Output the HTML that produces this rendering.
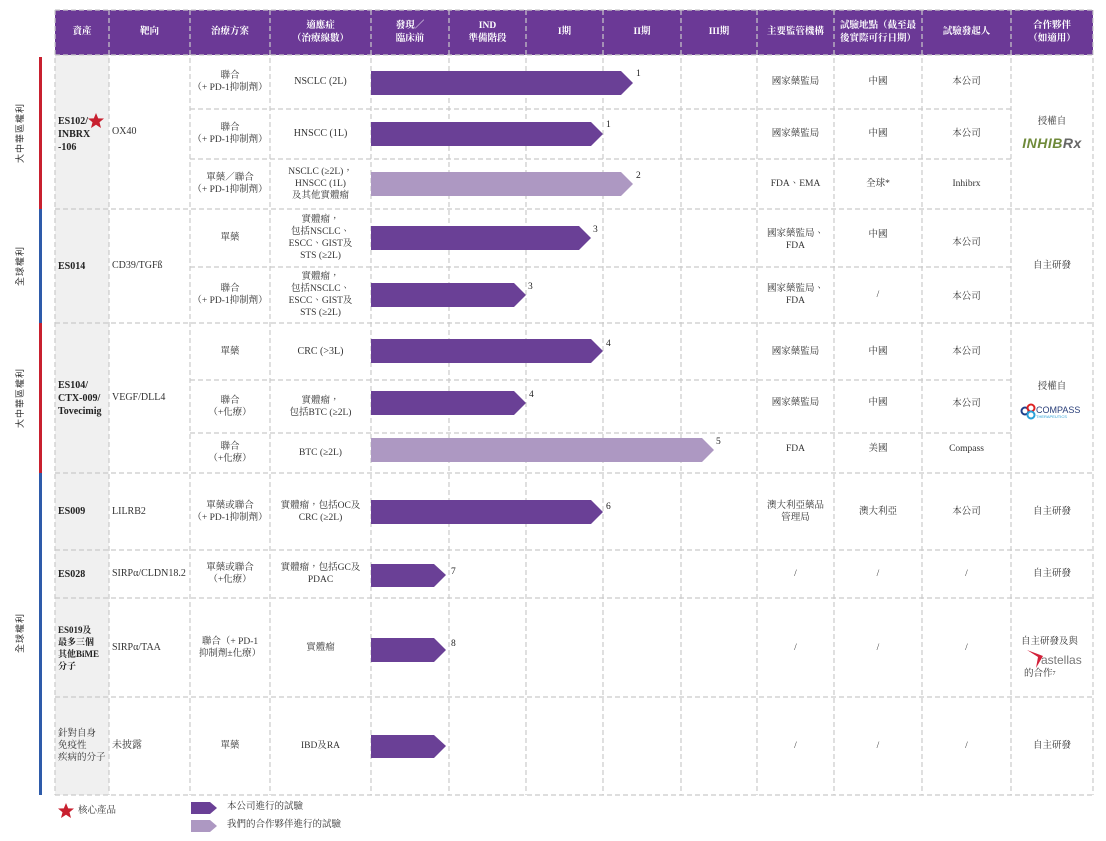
<!DOCTYPE html>
<html><head><meta charset="utf-8"><style>
body{margin:0;width:1106px;height:841px;background:#fff;position:relative;overflow:hidden;font-family:"Liberation Serif","Noto Serif CJK TC","Noto Serif CJK SC",serif;color:#333;}
.c{position:absolute;display:flex;align-items:center;justify-content:center;text-align:center;font-size:9.5px;line-height:12px;}
.l{justify-content:flex-start;text-align:left;padding-left:3px;box-sizing:border-box;}
.h{color:#fff;font-size:9.5px;font-weight:bold;line-height:13px;}
.b{font-weight:bold;font-size:10px;line-height:13px;color:#222}
.n{position:absolute;font-size:9.5px;color:#222}
.v{position:absolute;width:100px;height:12px;line-height:12px;text-align:center;transform:rotate(-90deg);font-size:9px;color:#333;font-family:"Noto Sans CJK TC",sans-serif;letter-spacing:1px}
</style></head><body>
<svg width="1106" height="841" style="position:absolute;left:0;top:0">
<rect x="55" y="10" width="1038" height="45" fill="#6B3996"/>
<rect x="55" y="55" width="54" height="740" fill="#f0f0f0"/>
<rect x="39" y="57" width="3" height="152" fill="#C8202F"/>
<rect x="39" y="209" width="3" height="114" fill="#2E5BAA"/>
<rect x="39" y="323" width="3" height="150" fill="#C8202F"/>
<rect x="39" y="473" width="3" height="322" fill="#2E5BAA"/>
<g stroke="#cacaca" stroke-width="1.2" stroke-dasharray="5,3" fill="none">
<path d="M55 10V795M109 10V795M190 10V795M270 10V795M371 10V795M449 10V795M526 10V795M603 10V795M681 10V795M757 10V795M834 10V795M922 10V795M1011 10V795M1093 10V795"/>
<path d="M55 10H1093M55 55H1093M190 109H1011M190 159H1011M55 209H1093M190 267H1011M55 323H1093M190 380H1011M190 433H1011M55 473H1093M55 550H1093M55 598H1093M55 697H1093M55 795H1093"/>
</g>
<g fill="#6A4096">
<polygon points="371,71 621,71 633,83 621,95 371,95"/>
<polygon points="371,122 591,122 603,134 591,146 371,146"/>
<polygon points="371,226 579,226 591,238 579,250 371,250"/>
<polygon points="371,283 514,283 526,295 514,307 371,307"/>
<polygon points="371,339 591,339 603,351 591,363 371,363"/>
<polygon points="371,391 514,391 526,403 514,415 371,415"/>
<polygon points="371,500 591,500 603,512 591,524 371,524"/>
<polygon points="371,564 434,564 446,575 434,587 371,587"/>
<polygon points="371,638 434,638 446,650 434,662 371,662"/>
<polygon points="371,735 434,735 446,746 434,758 371,758"/>
<polygon points="191,802 210,802 217,808 210,814 191,814"/>
</g>
<g fill="#AD98C2">
<polygon points="371,172 621,172 633,184 621,196 371,196"/>
<polygon points="371,438 702,438 714,450 702,462 371,462"/>
<polygon points="191,820 210,820 217,826 210,832 191,832"/>
</g>
<polygon fill="#C8202F" transform="translate(96,121)" points="0,-8 2.2,-2.6 8,-2.5 3.5,1.2 5,7 0,3.8 -5,7 -3.5,1.2 -8,-2.5 -2.2,-2.6"/>
<polygon fill="#C8202F" transform="translate(66,811)" points="0,-8 2.2,-2.6 8,-2.5 3.5,1.2 5,7 0,3.8 -5,7 -3.5,1.2 -8,-2.5 -2.2,-2.6"/>
<circle cx="1025" cy="411" r="3.5" fill="none" stroke="#1f3f8a" stroke-width="2"/>
<circle cx="1031" cy="408" r="3.5" fill="none" stroke="#d22" stroke-width="2"/>
<circle cx="1031" cy="415" r="3.5" fill="none" stroke="#29a0d8" stroke-width="2"/>
<polygon points="1027,650 1043,656 1036,668 1038,657" fill="#d3213a"/>
</svg>
<div class="v" style="left:-30px;top:127px;">大中華區權利</div>
<div class="v" style="left:-30px;top:260px;">全球權利</div>
<div class="v" style="left:-30px;top:392px;">大中華區權利</div>
<div class="v" style="left:-30px;top:627px;">全球權利</div>
<div class="c h" style="left:55px;top:10px;width:54px;height:45px">資產</div>
<div class="c h" style="left:109px;top:10px;width:81px;height:45px">靶向</div>
<div class="c h" style="left:190px;top:10px;width:80px;height:45px">治療方案</div>
<div class="c h" style="left:270px;top:10px;width:101px;height:45px">適應症<br>（治療線數）</div>
<div class="c h" style="left:371px;top:10px;width:78px;height:45px">發現／<br>臨床前</div>
<div class="c h" style="left:449px;top:10px;width:77px;height:45px">IND<br>準備階段</div>
<div class="c h" style="left:526px;top:10px;width:77px;height:45px">I期</div>
<div class="c h" style="left:603px;top:10px;width:78px;height:45px">II期</div>
<div class="c h" style="left:681px;top:10px;width:76px;height:45px">III期</div>
<div class="c h" style="left:757px;top:10px;width:77px;height:45px">主要監管機構</div>
<div class="c h" style="left:834px;top:10px;width:88px;height:45px">試驗地點（截至最<br>後實際可行日期）</div>
<div class="c h" style="left:922px;top:10px;width:89px;height:45px">試驗發起人</div>
<div class="c h" style="left:1011px;top:10px;width:82px;height:45px">合作夥伴<br>（如適用）</div>
<div class="c l b" style="left:55px;top:109px;width:54px;height:50px">ES102/<br>INBRX<br>-106</div>
<div class="c l b" style="left:55px;top:209px;width:54px;height:114px">ES014</div>
<div class="c l b" style="left:55px;top:323px;width:54px;height:150px">ES104/<br>CTX-009/<br>Tovecimig</div>
<div class="c l b" style="left:55px;top:473px;width:54px;height:77px">ES009</div>
<div class="c l b" style="left:55px;top:550px;width:54px;height:48px">ES028</div>
<div class="c l b" style="left:55px;top:598px;width:54px;height:99px;font-size:9px;line-height:12px">ES019及<br>最多三個<br>其他BiME<br>分子</div>
<div class="c l" style="left:55px;top:697px;width:54px;height:98px;font-size:9.5px;line-height:12px">針對自身<br>免疫性<br>疾病的分子</div>
<div class="c l" style="left:109px;top:55px;width:81px;height:154px;font-size:10px">OX40</div>
<div class="c l" style="left:109px;top:209px;width:81px;height:114px;font-size:10px">CD39/TGFß</div>
<div class="c l" style="left:109px;top:323px;width:81px;height:150px;font-size:10px">VEGF/DLL4</div>
<div class="c l" style="left:109px;top:473px;width:81px;height:77px;font-size:10px">LILRB2</div>
<div class="c l" style="left:109px;top:550px;width:82px;height:48px;font-size:10px">SIRPα/CLDN18.2</div>
<div class="c l" style="left:109px;top:598px;width:81px;height:99px;font-size:10px">SIRPα/TAA</div>
<div class="c l" style="left:109px;top:697px;width:81px;height:98px;font-size:10px">未披露</div>
<div class="c" style="left:190px;top:55px;width:80px;height:54px">聯合<br>（+ PD-1抑制劑）</div>
<div class="c" style="left:190px;top:109px;width:80px;height:50px">聯合<br>（+ PD-1抑制劑）</div>
<div class="c" style="left:190px;top:159px;width:80px;height:50px">單藥／聯合<br>（+ PD-1抑制劑）</div>
<div class="c" style="left:190px;top:209px;width:80px;height:58px">單藥</div>
<div class="c" style="left:190px;top:267px;width:80px;height:56px">聯合<br>（+ PD-1抑制劑）</div>
<div class="c" style="left:190px;top:323px;width:80px;height:57px">單藥</div>
<div class="c" style="left:190px;top:380px;width:80px;height:53px">聯合<br>（+化療）</div>
<div class="c" style="left:190px;top:433px;width:80px;height:40px">聯合<br>（+化療）</div>
<div class="c" style="left:190px;top:473px;width:80px;height:77px">單藥或聯合<br>（+ PD-1抑制劑）</div>
<div class="c" style="left:190px;top:550px;width:80px;height:48px">單藥或聯合<br>（+化療）</div>
<div class="c" style="left:190px;top:598px;width:80px;height:99px">聯合（+ PD-1<br>抑制劑±化療）</div>
<div class="c" style="left:190px;top:697px;width:80px;height:98px">單藥</div>
<div class="c" style="left:270px;top:55px;width:101px;height:54px;font-size:10px">NSCLC (2L)</div>
<div class="c" style="left:270px;top:109px;width:101px;height:50px;font-size:10px">HNSCC (1L)</div>
<div class="c" style="left:270px;top:159px;width:101px;height:50px">NSCLC (≥2L)，<br>HNSCC (1L)<br>及其他實體瘤</div>
<div class="c" style="left:270px;top:209px;width:101px;height:58px">實體瘤，<br>包括NSCLC、<br>ESCC、GIST及<br>STS (≥2L)</div>
<div class="c" style="left:270px;top:267px;width:101px;height:56px">實體瘤，<br>包括NSCLC、<br>ESCC、GIST及<br>STS (≥2L)</div>
<div class="c" style="left:270px;top:323px;width:101px;height:57px;font-size:10px">CRC (&gt;3L)</div>
<div class="c" style="left:270px;top:380px;width:101px;height:53px">實體瘤，<br>包括BTC (≥2L)</div>
<div class="c" style="left:270px;top:433px;width:101px;height:40px">BTC (≥2L)</div>
<div class="c" style="left:270px;top:473px;width:101px;height:77px">實體瘤，包括OC及<br>CRC (≥2L)</div>
<div class="c" style="left:270px;top:550px;width:101px;height:48px">實體瘤，包括GC及<br>PDAC</div>
<div class="c" style="left:270px;top:598px;width:101px;height:99px">實體瘤</div>
<div class="c" style="left:270px;top:697px;width:101px;height:98px">IBD及RA</div>
<div class="n" style="left:636px;top:69px">1</div>
<div class="n" style="left:606px;top:120px">1</div>
<div class="n" style="left:636px;top:171px">2</div>
<div class="n" style="left:593px;top:225px">3</div>
<div class="n" style="left:528px;top:282px">3</div>
<div class="n" style="left:606px;top:339px">4</div>
<div class="n" style="left:529px;top:390px">4</div>
<div class="n" style="left:716px;top:437px">5</div>
<div class="n" style="left:606px;top:502px">6</div>
<div class="n" style="left:451px;top:567px">7</div>
<div class="n" style="left:451px;top:639px">8</div>
<div class="c" style="left:757px;top:55px;width:77px;height:54px">國家藥監局</div>
<div class="c" style="left:834px;top:55px;width:88px;height:54px">中國</div>
<div class="c" style="left:922px;top:55px;width:89px;height:54px">本公司</div>
<div class="c" style="left:757px;top:109px;width:77px;height:50px">國家藥監局</div>
<div class="c" style="left:834px;top:109px;width:88px;height:50px">中國</div>
<div class="c" style="left:922px;top:109px;width:89px;height:50px">本公司</div>
<div class="c" style="left:757px;top:159px;width:77px;height:50px">FDA、EMA</div>
<div class="c" style="left:834px;top:159px;width:88px;height:50px">全球*</div>
<div class="c" style="left:922px;top:159px;width:89px;height:50px">Inhibrx</div>
<div class="c" style="left:757px;top:209px;width:77px;height:58px;align-items:flex-start;padding-top:19px;box-sizing:border-box">國家藥監局、<br>FDA</div>
<div class="c" style="left:834px;top:209px;width:88px;height:58px;align-items:flex-start;padding-top:20px;box-sizing:border-box">中國</div>
<div class="c" style="left:922px;top:209px;width:89px;height:68px">本公司</div>
<div class="c" style="left:757px;top:267px;width:77px;height:56px">國家藥監局、<br>FDA</div>
<div class="c" style="left:834px;top:267px;width:88px;height:56px">/</div>
<div class="c" style="left:922px;top:267px;width:89px;height:60px">本公司</div>
<div class="c" style="left:757px;top:323px;width:77px;height:57px">國家藥監局</div>
<div class="c" style="left:834px;top:323px;width:88px;height:57px">中國</div>
<div class="c" style="left:922px;top:323px;width:89px;height:57px">本公司</div>
<div class="c" style="left:757px;top:380px;width:77px;height:46px">國家藥監局</div>
<div class="c" style="left:834px;top:380px;width:88px;height:46px">中國</div>
<div class="c" style="left:922px;top:380px;width:89px;height:48px">本公司</div>
<div class="c" style="left:757px;top:433px;width:77px;height:32px">FDA</div>
<div class="c" style="left:834px;top:433px;width:88px;height:32px">美國</div>
<div class="c" style="left:922px;top:433px;width:89px;height:32px">Compass</div>
<div class="c" style="left:757px;top:473px;width:77px;height:77px">澳大利亞藥品<br>管理局</div>
<div class="c" style="left:834px;top:473px;width:88px;height:77px">澳大利亞</div>
<div class="c" style="left:922px;top:473px;width:89px;height:77px">本公司</div>
<div class="c" style="left:757px;top:550px;width:77px;height:48px">/</div>
<div class="c" style="left:834px;top:550px;width:88px;height:48px">/</div>
<div class="c" style="left:922px;top:550px;width:89px;height:48px">/</div>
<div class="c" style="left:757px;top:598px;width:77px;height:99px">/</div>
<div class="c" style="left:834px;top:598px;width:88px;height:99px">/</div>
<div class="c" style="left:922px;top:598px;width:89px;height:99px">/</div>
<div class="c" style="left:757px;top:697px;width:77px;height:98px">/</div>
<div class="c" style="left:834px;top:697px;width:88px;height:98px">/</div>
<div class="c" style="left:922px;top:697px;width:89px;height:98px">/</div>
<div class="c" style="left:1011px;top:115px;width:82px;height:14px">授權自</div>
<div class="c" style="left:1011px;top:134px;width:82px;height:18px;font-family:'Liberation Sans',sans-serif;font-weight:bold;font-style:italic;font-size:14px;color:#6f8a3a;letter-spacing:0.5px">INHIB<span style="color:#666">Rx</span></div>
<div class="c" style="left:1011px;top:380px;width:82px;height:14px">授權自</div>
<div class="c" style="left:1036px;top:404px;width:50px;height:12px;font-family:'Liberation Sans',sans-serif;font-size:9px;color:#2a3f7a;justify-content:flex-start">COMPASS</div>
<div class="c" style="left:1036px;top:414px;width:50px;height:6px;font-family:'Liberation Sans',sans-serif;font-size:4px;color:#29a0d8;justify-content:flex-start">THERAPEUTICS</div>
<div class="c" style="left:1011px;top:209px;width:82px;height:114px">自主研發</div>
<div class="c" style="left:1011px;top:473px;width:82px;height:77px">自主研發</div>
<div class="c" style="left:1011px;top:550px;width:82px;height:48px">自主研發</div>
<div class="c l" style="left:1021px;top:636px;width:80px;height:12px;padding:0">自主研發及與</div>
<div class="c l" style="left:1041px;top:652px;width:60px;height:16px;padding:0;font-family:'Liberation Sans',sans-serif;font-size:12px;color:#777">astellas</div>
<div class="c l" style="left:1024px;top:668px;width:60px;height:12px;padding:0">的合作<sup style="font-size:6px">7</sup></div>
<div class="c" style="left:1011px;top:697px;width:82px;height:98px">自主研發</div>
<div class="c l" style="left:78px;top:805px;width:80px;height:12px;padding:0">核心產品</div>
<div class="c l" style="left:227px;top:801px;width:120px;height:12px;padding:0">本公司進行的試驗</div>
<div class="c l" style="left:227px;top:819px;width:160px;height:12px;padding:0">我們的合作夥伴進行的試驗</div>
</body></html>
